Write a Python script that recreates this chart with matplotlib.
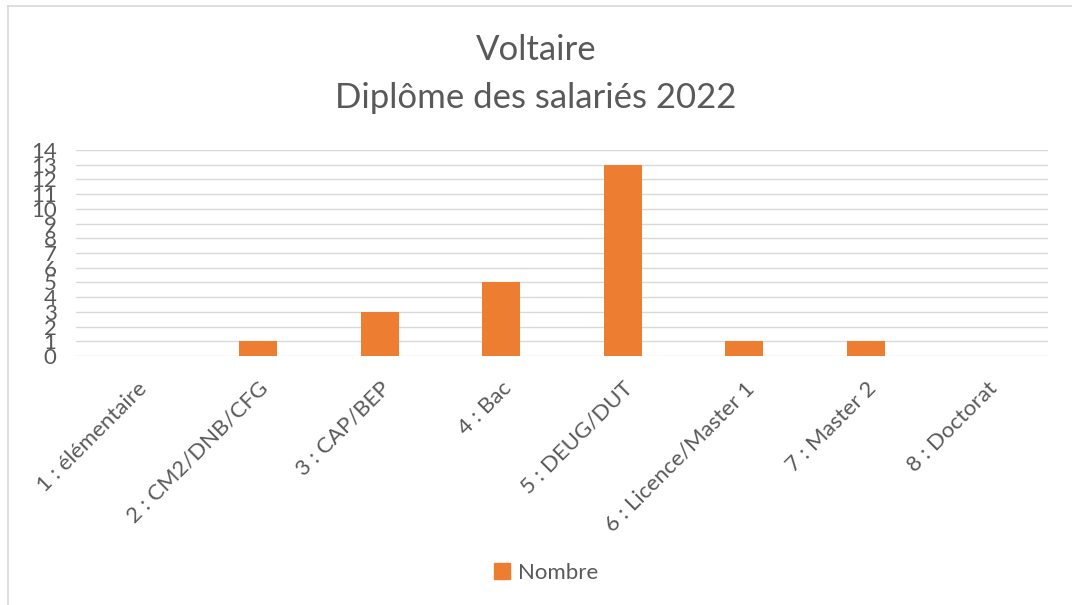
import matplotlib
matplotlib.use("Agg")
import matplotlib.pyplot as plt
from matplotlib.patches import Rectangle

plt.rcParams['font.family'] = ['Lato', 'DejaVu Sans']

# données
categories = ["1 : élémentaire", "2 : CM2/DNB/CFG", "3 : CAP/BEP", "4 : Bac",
              "5 : DEUG/DUT", "6 : Licence/Master 1", "7 : Master 2", "8 : Doctorat"]
nombre = [0, 1, 3, 5, 13, 1, 1, 0]
y_ticks = list(range(0, 15))

orange = "#ED7D31"
gris_texte = "#595959"
gris_grille = "#D9D9D9"

fig = plt.figure(figsize=(10.72, 6.05), dpi=100)
fig.patch.set_facecolor("white")

# cadre du graphique (bord gauche et haut visibles)
fig.add_artist(plt.Line2D([8 / 1072, 8 / 1072], [0, 1 - 6 / 605], color=gris_grille, lw=1.2))
fig.add_artist(plt.Line2D([8 / 1072, 1], [1 - 6 / 605, 1 - 6 / 605], color=gris_grille, lw=1.2))

ax = fig.add_axes([76 / 1072, 1 - 356 / 605, (1048 - 76) / 1072, (356 - 150) / 605])

x = list(range(len(categories)))
ax.bar(x, nombre, width=0.31, color=orange, zorder=3)

ax.set_xlim(-0.5, len(categories) - 0.5)
ax.set_ylim(0, 14)
ax.set_yticks(y_ticks)
ax.set_yticklabels([str(v) for v in y_ticks], fontsize=16, color=gris_texte)
ax.set_xticks(x)
ax.set_xticklabels(categories, rotation=45, ha="right", va="top",
                   rotation_mode="anchor", fontsize=16, color=gris_texte)
ax.tick_params(axis="both", length=0)
ax.tick_params(axis="y", pad=14)
ax.tick_params(axis="x", pad=16)

ax.grid(True, axis="y", color=gris_grille, lw=1, zorder=0)
for s in ax.spines.values():
    s.set_visible(False)

# titre
fig.text(0.5, 1 - 50 / 605, "Voltaire", ha="center", va="center", fontsize=25, color=gris_texte)
fig.text(0.5, 1 - 98 / 605, "Diplôme des salariés 2022", ha="center", va="center",
         fontsize=25, color=gris_texte)

# légende
fig.legend(handles=[Rectangle((0, 0), 1, 1, color=orange)], labels=["Nombre"],
           loc="center", bbox_to_anchor=(546 / 1072, 1 - 573 / 605), frameon=False,
           fontsize=16, labelcolor=gris_texte, handlelength=0.7, handleheight=0.7,
           handletextpad=0.35)

fig.savefig("out.png", dpi=100)
